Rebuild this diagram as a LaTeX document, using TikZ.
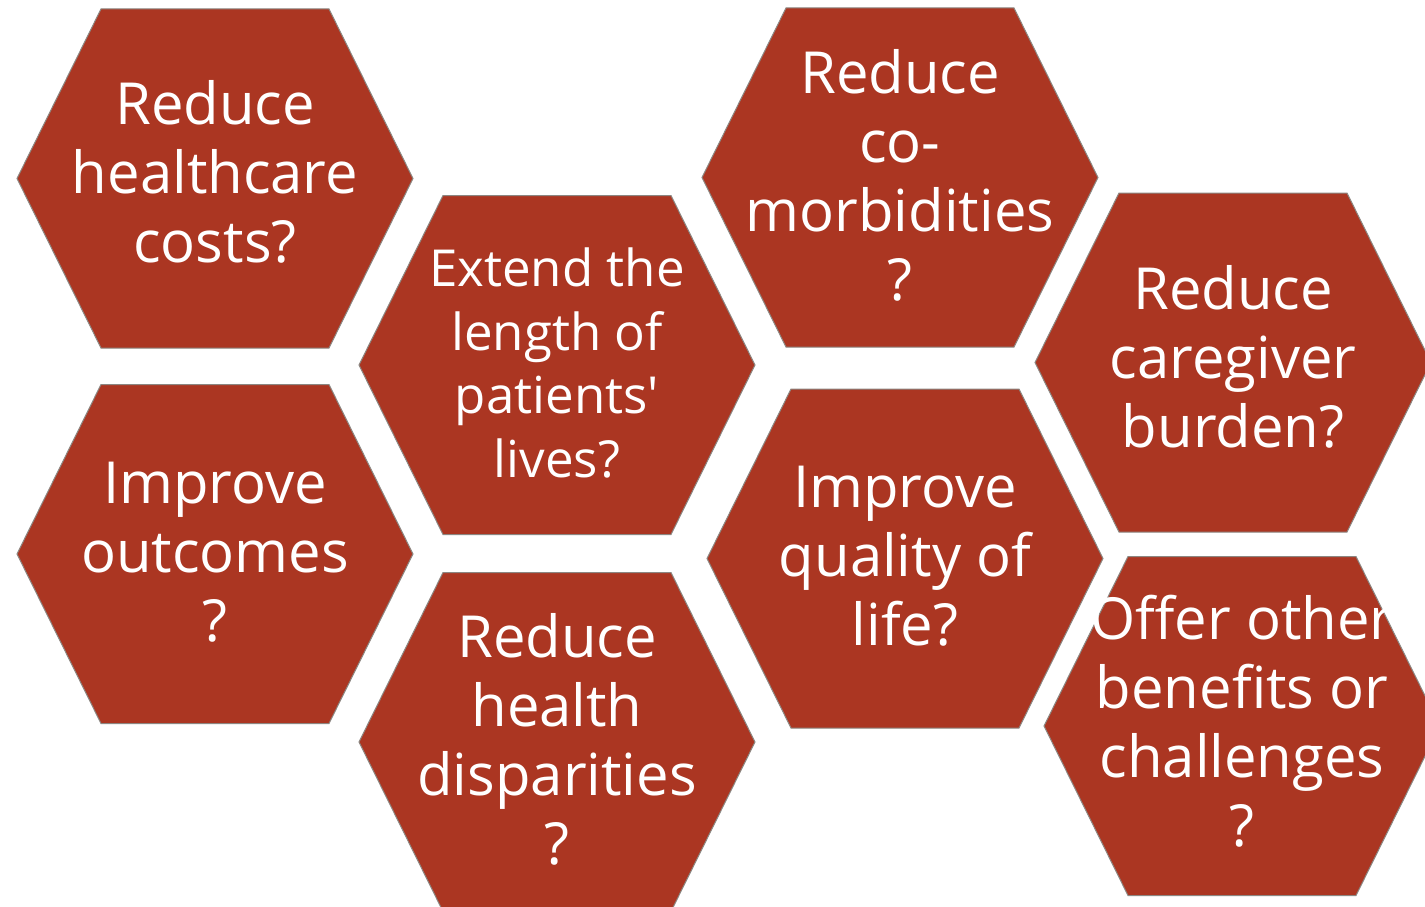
\documentclass[tikz,border=0pt]{standalone}
\usepackage{fontspec}
\setmainfont{Open Sans}[Ligatures=TeXOff]
\definecolor{hexfill}{RGB}{171,54,34}
\definecolor{hexline}{RGB}{140,135,130}
\tikzset{
  hexbox/.style={fill=hexfill, draw=hexline, line width=1pt, line join=miter},
  hextext/.style={text=white, align=center, inner sep=0pt, font=\fontsize{58}{69}\selectfont},
  hexsmall/.style={hextext, font=\fontsize{51}{63.5}\selectfont}
}
\newcommand\hexagonat[1]{%
  \path[hexbox] (#1) ++(-198,0) -- ++(84,-169.5) -- ++(228,0) -- ++(84,169.5) -- ++(-84,169.5) -- ++(-228,0) -- cycle;}
\begin{document}
\begin{tikzpicture}[x=1pt,y=-1pt]
\clip (0,0) rectangle (1425,907);
\fill[white] (0,0) rectangle (1425,907);
\coordinate (c1) at (215,178.5);
\coordinate (c2) at (215,554);
\coordinate (c3) at (557,365);
\coordinate (c4) at (557,742);
\coordinate (c5) at (900,177.5);
\coordinate (c6) at (905,558.5);
\coordinate (c7) at (1233,362.5);
\coordinate (c8) at (1242,726);
\hexagonat{c1}
\hexagonat{c2}
\hexagonat{c3}
\hexagonat{c4}
\hexagonat{c5}
\hexagonat{c6}
\hexagonat{c7}
\hexagonat{c8}
\node[hextext] (t1) at ([yshift=7]c1) {Reduce\\healthcare\\costs?};
\node[hextext] (t2) at ([yshift=2]c2) {Improve\\outcomes\\?};
\node[hexsmall] (t3) at ([yshift=2]c3) {Extend the\\length of\\patients'\\lives?};
\node[hextext] (t4) at ([yshift=3]c4) {Reduce\\health\\disparities\\?};
\node[hextext] (t5) at ([yshift=2]c5) {Reduce\\co-\\morbidities\\?};
\node[hextext] (t6) at ([yshift=2]c6) {Improve\\quality of\\life?};
\node[hextext] (t7) at ([yshift=6]c7) {Reduce\\caregiver\\burden?};
\node[hextext] (t8) at ([yshift=5]c8) {Offer other\\benefits or\\challenges\\?};
\end{tikzpicture}
\end{document}
